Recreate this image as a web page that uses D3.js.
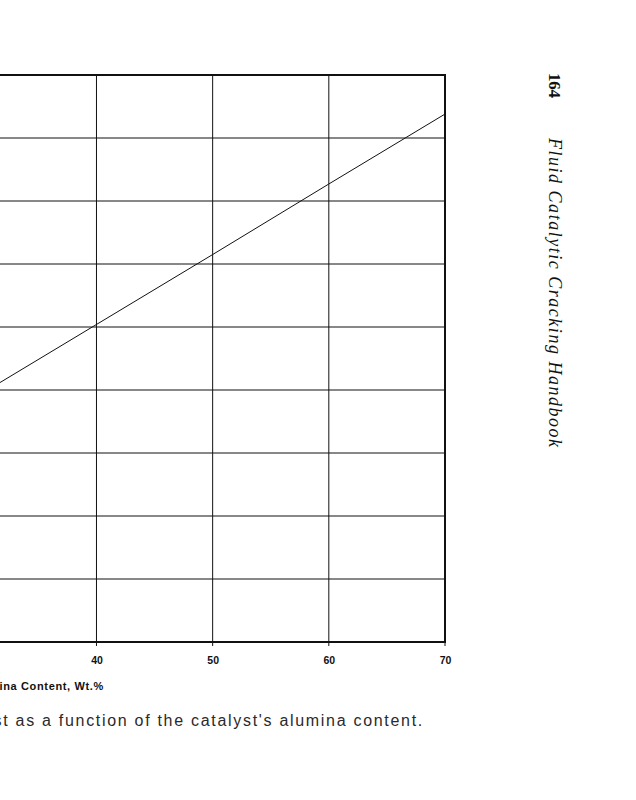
<!DOCTYPE html>
<html>
<head>
<meta charset="utf-8">
<script src="https://cdn.jsdelivr.net/npm/d3@7"></script>
<style>
  body { margin: 0; background: #fff; }
  svg { display: block; }
</style>
</head>
<body>
<svg width="636" height="800"></svg>
<script>
// values (y labels are cut off the page)
const xTicks = [30, 40, 50, 60, 70];
const xLabels = [40, 50, 60, 70]; // 30 sits off the page
const yTicks = [0, 10, 20, 30, 40, 50, 60, 70, 80, 90];
const alumina = [30, 40, 50, 60, 70];
const yValues = [39.3, 50.4, 61.5, 72.7, 83.8];

const svg = d3.select('svg');

// plot starts off the left edge of the page
const x = d3.scaleLinear().domain([30, 70]).range([-19.7, 445]);
const y = d3.scaleLinear().domain([0, 90]).range([642, 75]);

const grid = svg.append('g');

grid.selectAll('.vgrid')
    .data(xTicks)
    .join('line')
    .attr('x1', d => x(d))
    .attr('x2', d => x(d))
    .attr('y1', y(90))
    .attr('y2', y(0) + 4)
    .attr('stroke', '#111')
    .attr('stroke-width', 1);

grid.selectAll('.hgrid')
    .data(yTicks)
    .join('line')
    .attr('x1', x(30))
    .attr('x2', x(70))
    .attr('y1', d => y(d))
    .attr('y2', d => y(d))
    .attr('stroke', '#111')
    .attr('stroke-width', d => (d == 0 || d == 90) ? 2 : 1);

// right border
svg.append('line')
    .attr('x1', x(70)).attr('x2', x(70))
    .attr('y1', y(90) - 1).attr('y2', y(0) + 1)
    .attr('stroke', '#111')
    .attr('stroke-width', 2);

// x tick labels
const xAxis = d3.axisBottom(x)
    .tickValues(xLabels)
    .tickSize(0)
    .tickPadding(0);

const gx = svg.append('g')
    .attr('transform', `translate(0,${y(0) + 15})`)
    .call(xAxis);
gx.select('.domain').remove();
gx.selectAll('text')
    .attr('font-family', 'Liberation Sans, Arial, sans-serif')
    .attr('font-size', 10.5)
    .attr('font-weight', 'bold')
    .attr('fill', '#111');

// axis title, partly off the page like the scan
svg.append('text')
    .attr('x', 104)
    .attr('y', 690)
    .attr('text-anchor', 'end')
    .attr('font-family', 'Liberation Sans, Arial, sans-serif')
    .attr('font-size', 11)
    .attr('font-weight', 'bold')
    .attr('letter-spacing', 0.65)
    .attr('fill', '#111')
    .text('Alumina Content, Wt.%');

// the line
const line = d3.line()
    .x((d, i) => x(alumina[i]))
    .y(d => y(d));

svg.append('path')
    .datum(yValues)
    .attr('d', line)
    .attr('fill', 'none')
    .attr('stroke', '#111')
    .attr('stroke-width', 1);

// caption
svg.append('text')
    .attr('x', 424)
    .attr('y', 726)
    .attr('text-anchor', 'end')
    .attr('font-family', 'Liberation Sans, Arial, sans-serif')
    .attr('font-size', 16)
    .attr('letter-spacing', 1.7)
    .attr('fill', '#2a2a2a')
    .text("catalyst as a function of the catalyst's alumina content.");

// running header, rotated
const header = svg.append('g')
    .attr('transform', 'translate(549,0) rotate(90)');

header.append('text')
    .attr('x', 73)
    .attr('y', 0)
    .attr('font-family', 'Liberation Serif, Times New Roman, serif')
    .attr('font-size', 17)
    .attr('font-weight', 'bold')
    .attr('textLength', 25)
    .attr('fill', '#111')
    .text('164');

header.append('text')
    .attr('x', 138)
    .attr('y', 0)
    .attr('font-family', 'Liberation Serif, Times New Roman, serif')
    .attr('font-size', 18)
    .attr('font-style', 'italic')
    .attr('textLength', 309)
    .attr('fill', '#111')
    .text('Fluid Catalytic Cracking Handbook');
</script>
</body>
</html>
